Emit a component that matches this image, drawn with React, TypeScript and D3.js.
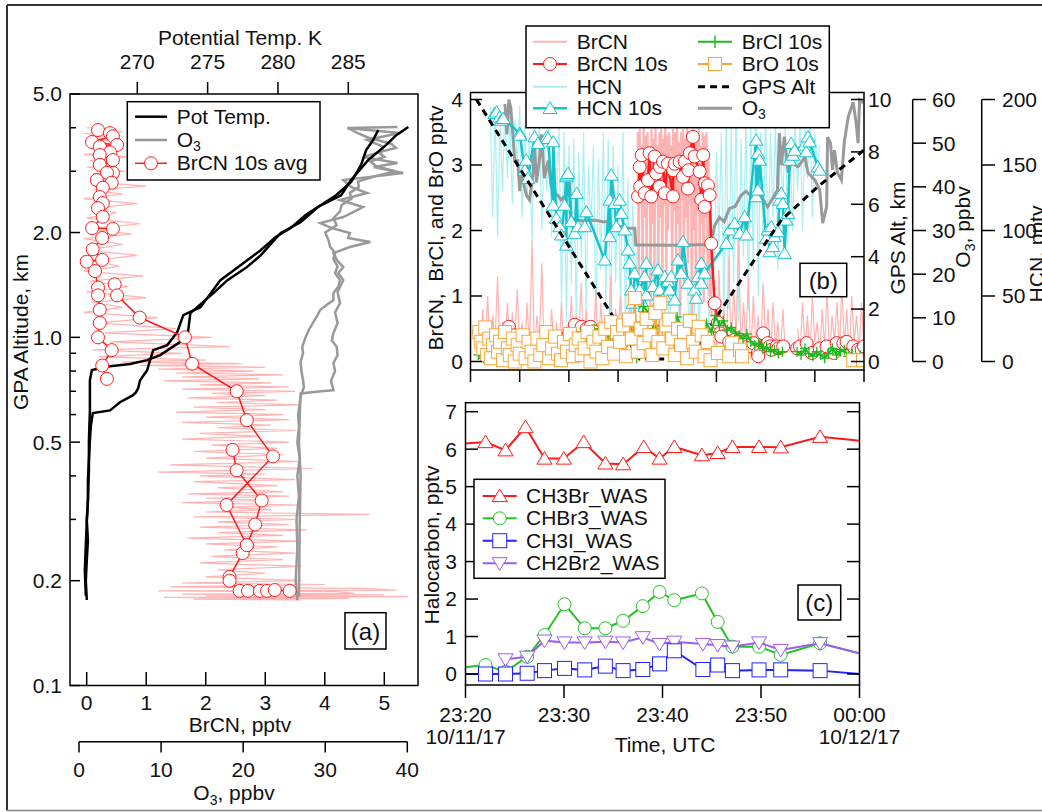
import React from "react";
import * as d3 from "d3";

type P = [number, number] | null;

const FONT = "'Liberation Sans', Arial, Helvetica, sans-serif";

// ---------------- Panel (a): vertical profile ----------------
const altTickValues = [0.1, 0.2, 0.5, 1.0, 2.0, 5.0];
const altTickLabels = ["0.1", "0.2", "0.5", "1.0", "2.0", "5.0"];
const altMinorTicks = [0.3, 0.4, 0.6, 0.7, 0.8, 0.9, 3, 4];
const thetaTicks = [270, 275, 280, 285];
const brcnTicksA = [0, 1, 2, 3, 4, 5];
const o3TicksA = [0, 10, 20, 30, 40];

// [altitude km, potential temperature K]
const potTempA: P[] = [
  [0.176, 266.41], [0.2, 266.34], [0.229, 266.41], [0.261, 266.49], [0.298, 266.41], [0.34, 266.49],
  [0.389, 266.49], [0.444, 266.56], [0.506, 266.63], [0.559, 266.7], [0.606, 266.84], [0.617, 268.06],
  [0.651, 268.77], [0.682, 269.7], [0.696, 269.91], [0.714, 270.06], [0.753, 270.2], [0.805, 270.7],
  [0.86, 270.91], [0.919, 271.13], [0.95, 272.13], [1.035, 272.84], [1.158, 273.27], [1.221, 274.49],
  [1.46, 275.91], [1.61, 277.34], [1.78, 278.77], [1.942, 279.84], [2.061, 280.91], [2.25, 281.99],
  [2.4, 283.06], [2.56, 284.13], [2.794, 285.2], [3.13, 285.91], [3.45, 286.27], [3.69, 286.77], [3.94, 287.13],
];
const potTempB: P[] = [
  [0.181, 266.34], [0.214, 266.27], [0.253, 266.34], [0.298, 266.41], [0.34, 266.49], [0.415, 266.56],
  [0.506, 266.56], [0.617, 266.63], [0.753, 266.63], [0.805, 266.77], [0.826, 268.06], [0.838, 269.49],
  [0.86, 270.7], [0.889, 271.63], [0.95, 272.7], [1.0, 273.56], [1.174, 273.77], [1.34, 275.41],
  [1.46, 276.41], [1.581, 277.7], [1.72, 278.77], [1.994, 280.2], [2.144, 281.63], [2.368, 282.84],
  [2.56, 284.49], [2.83, 285.2], [3.23, 286.41], [3.57, 287.7], [3.81, 288.41], [4.02, 289.27],
];
// [altitude km, O3 ppbv]
const o3ProfA: P[] = [
  [0.176, 26.6], [0.2, 26.4], [0.25, 26.6], [0.3, 26.5], [0.35, 26.8], [0.4, 26.6], [0.45, 26.9], [0.5, 26.6],
  [0.55, 26.8], [0.6, 26.7], [0.647, 26.9], [0.675, 27.0], [0.72, 27.4], [0.753, 27.3], [0.8, 27.1], [0.85, 27.0],
  [0.9, 27.3], [0.939, 27.2], [1.0, 27.6], [1.05, 28.0], [1.1, 28.5], [1.15, 29.0], [1.2, 29.4], [1.24, 30.2],
  [1.28, 31.0], [1.34, 31.0], [1.4, 31.6], [1.46, 31.8], [1.53, 31.2], [1.6, 31.5], [1.68, 31.0], [1.75, 31.2],
  [1.82, 30.6], [1.9, 30.4], [2.0, 30.0], [2.1, 31.4], [2.2, 31.0], [2.3, 31.8], [2.4, 32.0], [2.5, 33.2],
  [2.6, 33.0], [2.7, 34.1], [2.8, 34.0], [2.9, 36.0], [3.0, 38.5], [3.1, 36.2], [3.2, 35.5], [3.3, 37.2],
  [3.4, 36.5], [3.5, 38.6], [3.6, 38.0], [3.75, 35.2], [3.865, 33.9], [4.0, 32.7],
];
const o3ProfB: P[] = [
  [0.18, 26.8], [0.3, 26.9], [0.4, 27.0], [0.5, 26.8], [0.6, 26.9], [0.69, 27.0], [0.7, 29.5], [0.705, 31.0],
  [0.75, 30.7], [0.8, 31.2], [0.843, 31.0], [0.89, 31.5], [0.939, 31.4], [0.98, 30.8], [1.028, 31.0],
  [1.1, 31.5], [1.18, 31.2], [1.254, 31.8], [1.35, 31.5], [1.46, 32.2], [1.53, 31.6], [1.592, 32.2],
  [1.67, 31.4], [1.746, 31.0], [1.817, 33.0], [1.878, 35.5], [1.93, 32.8], [1.994, 33.0], [2.06, 30.8],
  [2.13, 29.4], [2.216, 32.2], [2.29, 33.4], [2.368, 34.6], [2.48, 31.8], [2.598, 35.1], [2.7, 33.2],
  [2.83, 32.2], [2.966, 39.5], [3.086, 35.9], [3.17, 38.8], [3.298, 34.6], [3.41, 36.8], [3.524, 37.1],
  [3.69, 35.1], [3.865, 39.1], [3.995, 32.7], [4.02, 38.8],
];
// [altitude km, BrCN pptv] raw 1 Hz
const brcnRawProf: P[] = [
  [4.0, 0.0], [3.97, 0.5], [3.93, 0.1], [3.9, 0.6], [3.85, -0.05], [3.8, 0.55], [3.75, 0.05], [3.7, 0.45],
  [3.62, 0.0], [3.55, 0.62], [3.5, 0.1], [3.42, 0.5], [3.35, -0.05], [3.3, 0.7], [3.22, 0.05], [3.15, 0.45],
  [3.08, 0.0], [3.0, 0.65], [2.95, 0.1], [2.88, 0.55], [2.8, 0.05], [2.72, 1.0], [2.65, 0.1], [2.58, 0.6],
  [2.5, -0.05], [2.42, 0.85], [2.35, 0.1], [2.28, 0.5], [2.2, 0.0], [2.12, 0.9], [2.05, 0.05], [1.98, 0.75],
  [1.92, -0.05], [1.85, 0.6], [1.78, 0.0], [1.72, 0.85], [1.66, 0.1], [1.6, 0.55], [1.55, -0.05], [1.5, 0.95],
  [1.45, 0.05], [1.4, 0.7], [1.35, 0.0], [1.3, 1.0], [1.26, 0.1], [1.22, 0.6], [1.18, -0.05], [1.14, 1.2],
  [1.1, 0.2], [1.06, 1.5], [1.03, 0.3], [1.0, 2.1], [0.97, 0.4], [0.94, 2.4], [0.92, 0.1], [0.9, 1.6],
  [0.88, 0.2], [0.86, 2.0], [0.85, 0.6], [0.84, 2.6], [0.83, 0.9], [0.82, 3.0], [0.81, 1.2], [0.8, 2.8],
  [0.79, 1.5], [0.78, 3.3], [0.77, 1.6], [0.76, 2.9], [0.75, 1.3], [0.74, 3.1], [0.73, 1.9], [0.72, 3.4],
  [0.71, 1.6], [0.7, 3.5], [0.69, 2.1], [0.68, 3.0], [0.67, 1.7], [0.66, 3.2], [0.65, 2.2], [0.64, 3.6],
  [0.63, 1.8], [0.62, 3.0], [0.61, 1.5], [0.6, 3.3], [0.59, 2.0], [0.58, 3.4], [0.57, 1.6], [0.56, 3.1],
  [0.55, 2.2], [0.54, 3.5], [0.53, 1.9], [0.52, 2.9], [0.51, 1.6], [0.5, 3.4], [0.49, 2.1], [0.48, 3.2],
  [0.47, 1.8], [0.46, 3.3], [0.45, 2.0], [0.44, 3.6], [0.43, 1.4], [0.42, 3.8], [0.41, 1.2], [0.405, 3.0],
  [0.4, 1.9], [0.39, 3.5], [0.385, 1.8], [0.375, 3.2], [0.37, 2.2], [0.36, 3.3], [0.355, 1.7], [0.35, 3.4],
  [0.345, 2.0], [0.34, 3.0], [0.335, 1.6], [0.33, 3.6], [0.325, 2.3], [0.32, 3.1], [0.315, 2.0], [0.31, 4.75],
  [0.305, 1.8], [0.3, 3.5], [0.295, 2.2], [0.29, 3.4], [0.285, 1.9], [0.28, 3.7], [0.275, 2.2], [0.27, 3.3],
  [0.265, 1.7], [0.26, 3.6], [0.255, 2.0], [0.25, 3.2], [0.245, 2.3], [0.24, 3.5], [0.235, 2.1], [0.23, 3.3],
  [0.225, 1.9], [0.22, 3.6], [0.215, 2.2], [0.21, 3.0], [0.205, 2.0], [0.2, 3.6], [0.197, 1.6], [0.195, 4.0],
  [0.192, 1.4], [0.19, 4.6], [0.188, 5.2], [0.187, 1.2], [0.186, 4.2], [0.184, 4.5], [0.183, 1.6], [0.182, 5.0],
  [0.181, 2.0], [0.18, 5.4], [0.179, 1.3], [0.178, 4.4], [0.177, 1.8], [0.176, 3.6],
];
// [altitude km, BrCN pptv] 10 s averages (null = break in line)
const brcnAvgProf: P[] = [
  [3.94, 0.19], [3.86, 0.39], [3.78, 0.44], [3.64, 0.09], [3.57, 0.51], [3.53, 0.22], [3.4, 0.39], [3.34, 0.22],
  [3.23, 0.44], [3.13, 0.22], [2.97, 0.44], [2.97, 0.34], [2.83, 0.17], [2.78, 0.42], [2.69, 0.27], [2.53, 0.22],
  [2.43, 0.27], [2.35, 0.19], [2.22, 0.27], [2.06, 0.09], [2.05, 0.44], [1.93, 0.26], [1.79, 0.1], [1.67, 0.26],
  [1.65, 0.0], [1.55, 0.14], [1.39, 0.19], [1.32, 0.19], [1.2, 0.22], [1.1, 0.22], [1.0, 0.19], [0.919, 0.42],
  [0.83, 0.26], [0.76, 0.34],
  null,
  [1.42, 0.47], [1.32, 0.51], [1.14, 0.89], [1.0, 1.65], [0.84, 1.77], [0.7, 2.52], [0.578, 2.69], [0.455, 3.13],
  [0.33, 2.35], [0.253, 2.69], [0.24, 2.62], [0.205, 2.4], [0.2, 2.4], [0.187, 2.57], [0.187, 2.71], [0.187, 2.91],
  [0.187, 3.03], [0.188, 3.16], [0.187, 3.41],
  null,
  [0.475, 2.45], [0.415, 2.52], [0.34, 2.94], [0.29, 2.83], [0.253, 2.69],
];

// ---------------- Panel (b): time series ----------------
const bLeftTicks = [0, 1, 2, 3, 4];
const gpsTicks = [0, 2, 4, 6, 8, 10];
const o3TicksB = [0, 10, 20, 30, 40, 50, 60];
const hcnTicks = [0, 50, 100, 150, 200];
const bTimeTicks = [0, 5, 10, 15, 20, 25, 30, 35, 40];

// [minutes after 23:20 UTC, value]
const gpsAlt: P[] = [
  [0.6, 10.0], [17.2, 0.1], [22.3, 0.1], [25.0, 1.7], [30.2, 4.64], [31.6, 5.4], [35.3, 6.67], [40, 8.07],
];
const o3Series: P[] = [
  [3.5, 59], [3.7, 52], [3.9, 60], [4.1, 58], [4.3, 52], [4.5, 46], [4.8, 46], [5.0, 39], [5.15, 43], [5.7, 38],
  [6.0, 37], [6.35, 43], [6.5, 50], [6.7, 41], [7.0, 46], [7.2, 52], [7.5, 42], [7.9, 46], [8.2, 40], [8.6, 38.5],
  [8.9, 38], [9.2, 37], [9.9, 38.5], [10.1, 41], [10.2, 33], [10.6, 32.5], [11.5, 32.2], [12.5, 32.4], [13.5, 32],
  [14.0, 32], [14.1, 35], [14.3, 30.5], [15, 31], [16, 30.5], [16.7, 30.5], [16.8, 26.7], [18, 26.7], [20, 26.6],
  [22, 26.7], [24.4, 26.8], [24.8, 31], [25.3, 33], [25.8, 32], [26.3, 35], [26.9, 35.5], [27.5, 38], [28, 39],
  [28.7, 37.5], [29.5, 38], [30.2, 35.4], [31.2, 39.3], [31.4, 52.3], [31.6, 45], [31.9, 51.5], [32.3, 43.2],
  [32.6, 45.5], [33.3, 44.6], [34, 46.8], [34.3, 43.2], [35, 41.6], [35.5, 39.3], [35.8, 31.7], [36.2, 35.4],
  [36.3, 51.4], [36.6, 50], [36.8, 43.9], [37.0, 48.4], [37.3, 43.2], [37.7, 41.6], [38.0, 50.3], [38.4, 56],
  [38.9, 59.4], [39.2, 54.6], [39.4, 50], [39.55, 59.9], [39.9, 59.2],
];
// HCN raw (pptv), sampled every 0.25 min from 2.0 min
const hcnRawStart = 2.0;
const hcnRawStep = 0.25;
const hcnRaw: (number | null)[] = [
  195, 110, 190, 95, 185, 130, 195,
  140, 190, 120, 185, 150, 195,
  110, 180, 125, 175, 90, 190, 140, 185,
  100, 170, 130, 185, 95, 160, 120, 180,
  40, 175, 30, 165,
  60, 170, 25, 160, 80, 175, 40, 150,
  100, 165, 30, 155, 70, 175, 45, 170,
  20, 165, 60, 150, 35, 175, 25, 140,
  15, 120, 30, 110,
  40, 90, 20, 85, 60, 75, 25, 95, 50, 80, 30, 70,
  20, 85, 45, 70, 16, 90, 55, 65, 25, 80,
  35, 85, 20, 90, 50, 75, 30, 95,
  70, 160, 90, 175,
  25, 195, 40, 180, 60, 200, 30, 170, 80, 190,
  40, 185, 70, 200, 50, 175, 90, 190,
  80, 175, 110, 185, 70, 170, 120, 180, 90, 160, 100, 185,
  130, 185, 100, 180, 140, 190, 110, 175, 150, 165,
];
const hcn10s: P[] = [
  [2.46, 189.3], [2.66, 190.5], [2.97, 186.7], [3.13, 184.2], [3.33, 185.5], [5.0, 174.1], [5.03, 172.8],
  [5.51, 146.1], [5.67, 153.7], [5.84, 139.8], [6.52, 171.5], [6.86, 166.5], [7.74, 171.5], [7.88, 170.3],
  [8.38, 119.4], [8.41, 167.7], [8.72, 109.3], [9.07, 102.9], [9.23, 96.6], [9.57, 119.4], [9.74, 141.0],
  [9.74, 88.9], [9.78, 142.3], [9.91, 143.6], [10.24, 106.7], [10.59, 97.9], [10.79, 128.4], [10.92, 102.9],
  [11.61, 102.9], [11.77, 114.3], [13.64, 77.5], [14.15, 123.2], [14.15, 95.3], [14.31, 142.3], [14.65, 120.7],
  [14.82, 102.9], [15.16, 123.2], [15.33, 113.1], [15.67, 100.4], [16.01, 85.1], [16.18, 75.0], [16.34, 54.6],
  [16.51, 44.5], [16.69, 67.4], [17.2, 54.6], [17.7, 64.8], [17.7, 41.9], [17.87, 75.0], [17.87, 50.8],
  [18.55, 57.2], [19.05, 69.9], [19.05, 44.5], [19.23, 54.6], [19.74, 64.8], [19.74, 49.5], [20.07, 61.0],
  [20.24, 54.6], [20.41, 64.8], [20.75, 47.0], [21.09, 77.5], [21.42, 67.4], [21.6, 91.5], [22.1, 59.8],
  [22.78, 54.6], [22.95, 48.3], [23.12, 64.8], [23.46, 75.0], [23.46, 59.8], [23.8, 67.4], [26.0, 90.2],
  [26.34, 100.4], [26.85, 105.5], [27.36, 97.9], [27.87, 110.5], [28.03, 96.6], [29.04, 169.0], [29.04, 125.8],
  [29.22, 158.8], [29.22, 130.9], [29.39, 153.7], [30.06, 94.1], [30.23, 100.4], [30.41, 83.8], [30.57, 102.9],
  [30.74, 87.7], [30.91, 95.3], [31.25, 99.1], [31.42, 123.2], [31.59, 128.4], [31.76, 120.7], [31.93, 82.6],
  [32.09, 108.0], [32.27, 113.1], [32.44, 153.7], [32.6, 166.5], [32.77, 157.5], [32.95, 161.3], [33.96, 165.2],
  [34.13, 160.1], [34.3, 171.5], [34.47, 167.7], [35.31, 148.6], [35.49, 146.1],
];
// BrCN raw (pptv), sampled every 0.25 min from 0.75 min (the 17-24.5 min plume is held separately)
const brcnRawStart = 0.75;
const brcnRawStep = 0.25;
const brcnRaw: (number | null)[] = [
  0.5, 0.1, 0.8, 0.2, 1.0, 0.05, 0.7, 0.3, 1.3, 0.1, 0.6, 0.2, 0.9, 0.0, 0.75, 0.3, 1.1, 0.15,
  0.6, 0.05, 0.9, 0.2, 1.85, 0.1, 0.7, 0.3, 1.5, 0.0, 0.5, 0.25, 0.8, 0.1, 0.6, 0.2, 0.9, 0.05, 0.55, 0.3,
  1.0, 0.1, 0.7, 0.35, 1.2, 0.05, 0.8, 0.2, 0.6, 0.4, 1.1, 0.1, 0.9, 0.3, 0.5, 0.15, 1.3, 0.2, 0.8, 0.45,
  1.0, 0.1, 0.7, 0.3, 1.2, 0.25, 0.6, 0.1,
  null, null, null, null, null, null, null, null, null, null, null, null, null, null, null,
  null, null, null, null, null, null, null, null, null, null, null, null, null, null, null,
  1.0, 0.1, 1.4, 0.3, 0.8, 0.05, 1.6, 0.2, 1.1, 0.4, 1.85, 0.15, 0.9, 0.3, 1.3, 0.05, 1.0, 0.25, 0.7, 0.1,
  1.2, 0.3, 0.8, 0.05, 0.9, 0.2, 0.6, 0.1, 0.8, 0.15,
  null, null, null, null,
  0.5, 0.1, 0.9, 0.2, 0.7, 0.05, 1.0, 0.3, 0.6, 0.1, 0.8, 0.2, 1.1, 0.05, 0.7, 0.3, 0.9, 0.1, 1.2, 0.25,
  0.8, 0.05, 1.0, 0.3, 0.7, 0.15, 0.9, 0.2, 0.6,
];
const brcnPlumeStart = 17.0;
const brcnPlumeStep = 0.1;
const brcnPlume: number[] = [
  3.5, 1.2, 3.55, 2.4, 3.3, 0.9, 3.6, 2.2, 3.45, 1.5,
  3.5, 2.6, 3.2, 0.6, 3.55, 2.1, 3.4, 1.1, 3.6, 2.5,
  3.3, 1.4, 3.5, 2.2, 3.55, 0.8, 3.4, 2.4, 3.6, 1.3,
  3.45, 2.0, 3.5, 2.7, 3.3, 1.0, 3.55, 2.3, 3.5, 1.6,
  3.6, 2.1, 3.35, 0.7, 3.5, 2.5, 3.55, 1.2, 3.4, 2.2,
  3.6, 1.5, 3.45, 2.4, 3.5, 0.6, 3.55, 2.0, 3.4, 1.1,
  3.5, 2.3, 3.6, 1.4, 3.3, 2.1, 3.5, 0.9, 3.45, 2.2,
  3.5, 1.3, 3.2, 1.0, 2.5, 0.7,
];
const brcn10s: P[] = [
  [0.9, 0.45], [1.3, 0.43], [1.5, 0.36], [2.0, 0.3], [2.6, 0.25], [3.2, 0.35], [3.9, 0.53], [4.4, 0.4], [5.0, 0.3],
  [5.6, 0.22], [6.2, 0.2], [6.9, 0.25], [7.6, 0.3], [8.2, 0.23], [8.9, 0.28], [9.5, 0.35], [10.0, 0.4], [10.6, 0.56],
  [11.3, 0.53], [11.8, 0.5], [12.2, 0.53], [12.5, 0.46], [13.1, 0.4], [13.6, 0.48], [14.3, 0.48], [14.9, 0.35],
  [15.5, 0.3], [16.1, 0.38], [16.7, 0.42],
  null,
  [17.03, 2.52], [17.2, 2.97], [17.25, 2.67], [17.4, 3.15], [17.7, 2.57], [18.04, 2.77], [18.2, 3.18], [18.37, 2.52],
  [18.72, 3.13], [18.88, 2.87], [19.23, 2.67], [19.26, 2.97], [19.56, 3.05], [19.74, 2.57], [20.07, 3.02],
  [20.58, 2.52], [20.61, 2.92], [20.75, 3.02], [21.26, 3.05], [21.6, 2.82], [21.77, 3.05], [22.1, 2.64],
  [22.15, 2.92], [22.3, 3.18], [22.61, 3.43], [22.78, 3.13], [23.29, 2.9], [23.46, 2.47], [23.66, 3.15],
  [23.8, 2.36], [23.83, 2.72], [24.14, 2.69], [24.31, 2.54], [24.47, 1.8], [24.82, 0.89],
  [25.15, 0.59], [25.36, 0.43], [25.49, 0.38], [26.3, 0.3], [26.85, 0.33], [27.39, 0.33], [28.2, 0.23],
  [28.74, 0.28], [29.22, 0.13], [29.25, 0.08], [29.76, 0.43], [30.23, 0.28], [30.43, 0.23], [30.6, 0.18],
  [31.12, 0.23], [31.3, 0.2], [31.79, 0.23],
  null,
  [33.2, 0.2], [33.49, 0.23], [34.17, 0.28], [34.7, 0.13], [35.5, 0.2], [36.2, 0.23], [36.9, 0.13], [37.22, 0.28],
  [37.9, 0.28], [38.23, 0.3], [38.9, 0.23], [39.4, 0.18], [39.76, 0.18], [40.0, 0.23],
];
const brcl10s: P[] = [
  [0.8, 0.1], [1.3, 0.05], [2, 0.08], [2.7, 0.02], [3.4, 0.06], [4.1, 0.0], [4.8, 0.05], [5.5, 0.08], [6.2, 0.03],
  [7, 0.1], [7.7, 0.05], [8.4, 0.15], [9.1, 0.3], [9.8, 0.25], [10.5, 0.38], [11.2, 0.45], [11.9, 0.33],
  [12.6, 0.5], [13.3, 0.3], [14, 0.4], [14.7, 0.35], [15.4, 0.5], [16.1, 0.55], [16.6, 0.45], [16.9, 0.05],
  [17.3, 0.6], [17.6, 0.84], [18.1, 0.74], [18.6, 0.5], [19.2, 0.55], [19.8, 0.6], [20.4, 0.5], [21, 0.68],
  [21.6, 0.45], [22.2, 0.55], [22.8, 0.62], [23.4, 0.5], [24, 0.58], [24.5, 0.45], [24.9, 0.7], [25.3, 0.55],
  [25.7, 0.62], [26.1, 0.48], [26.5, 0.52], [26.9, 0.45], [27.3, 0.4], [27.7, 0.35], [28.1, 0.42], [28.5, 0.3],
  [28.9, 0.25], [29.3, 0.28], [29.7, 0.2], [30.1, 0.22], [30.5, 0.15], [30.9, 0.18], [31.3, 0.12], [31.7, 0.15],
  null,
  [33.2, 0.15], [33.6, 0.1], [34, 0.2], [34.4, 0.12], [34.8, 0.08], [35.2, 0.15], [35.6, 0.1], [36, 0.05],
  [36.4, 0.12], [36.8, 0.2], [37.2, 0.1], [37.6, 0.15], [38, 0.18], [38.4, 0.08], [38.8, 0.12], [39.2, 0.05],
  [39.6, 0.1],
];
const bro10s: P[] = [
  [0.9, 0.45], [1.1, 0.3], [1.3, 0.2], [1.5, 0.52], [1.7, 0.1], [1.9, 0.35], [2.1, 0.05], [2.3, 0.25], [2.6, 0.4],
  [2.8, 0.15], [3.0, 0.3], [3.3, 0.02], [3.5, 0.45], [3.8, 0.2], [4.0, 0.1], [4.3, 0.35], [4.5, 0.0], [4.8, 0.25],
  [5.0, 0.12], [5.3, 0.4], [5.6, 0.05], [5.9, 0.3], [6.2, 0.15], [6.5, 0.0], [6.8, 0.35], [7.1, 0.1], [7.4, 0.25],
  [7.7, 0.45], [8.0, 0.05], [8.3, 0.2], [8.6, 0.38], [8.9, 0.12], [9.2, 0.02], [9.5, 0.3], [9.8, 0.15],
  [10.1, 0.42], [10.4, 0.08], [10.7, 0.25], [11.0, 0.35], [11.3, 0.1], [11.6, 0.2], [11.9, 0.45], [12.2, 0.0],
  [12.5, 0.3], [12.8, 0.15], [13.1, 0.38], [13.4, 0.05], [13.7, 0.5], [14.0, 0.22], [14.3, 0.6], [14.6, 0.12],
  [14.9, 0.45], [15.2, 0.3], [15.5, 0.55], [15.8, 0.08], [16.1, 0.64], [16.4, 0.35], [16.7, 0.97], [17.0, 0.15],
  [17.3, 0.5], [17.6, 0.28], [17.9, 0.65], [18.2, 0.4], [18.5, 0.1], [18.8, 0.74], [19.1, 0.3], [19.3, 0.89],
  [19.6, 0.2], [19.9, 0.55], [20.2, 0.64], [20.5, 0.35], [20.8, 0.1], [21.1, 0.5], [21.4, 0.25], [21.7, 0.45],
  [22.0, 0.05], [22.3, 0.62], [22.6, 0.3], [22.9, 0.15], [23.2, 0.53], [23.5, 0.4], [23.8, 0.08], [24.1, 0.3],
  [24.4, 0.02], [25.15, 0.13], [26.3, 0.08], [26.6, 0.28], [27.4, 0.18], [27.6, 0.08],
  null,
  [38.9, 0.02], [39.9, 0.02],
];

// ---------------- Panel (c): halocarbons ----------------
const cLeftTicks = [0, 1, 2, 3, 4, 5, 6, 7];
const timeTicks = [0, 10, 20, 30, 40];
const timeLabels = ["23:20", "23:30", "23:40", "23:50", "00:00"];
const dateLabels = ["10/11/17", "", "", "", "10/12/17"];

const ch3br: P[] = [
  [-3, 6.1], [2.03, 6.19], [4.06, 5.97], [6.09, 6.59], [8.02, 5.75], [9.98, 5.75], [12.0, 6.19], [14.2, 5.62],
  [16.0, 5.6], [18.1, 6.06], [19.7, 5.75], [21.2, 6.06], [24.0, 5.84], [25.6, 5.9], [27.1, 6.06], [29.8, 6.06],
  [32.0, 6.05], [36.0, 6.33], [44, 6.12],
];
const chbr3: P[] = [
  [-3, 0.1], [2.03, 0.24], [4.06, 0.06], [6.26, 0.46], [8.02, 1.04], [10.05, 1.86], [12.1, 1.22], [14.2, 1.22],
  [16.0, 1.42], [18.0, 1.81], [19.7, 2.19], [21.2, 1.97], [24.0, 2.15], [25.6, 1.39], [27.1, 0.73], [29.8, 0.73],
  [32.0, 0.51], [36.0, 0.82], [44, 0.28],
];
const ch3i: P[] = [
  [-3, 0.0], [2.03, 0.0], [4.06, 0.0], [6.26, 0.02], [8.02, 0.09], [10.05, 0.15], [12.1, 0.11], [14.2, 0.21],
  [16.0, 0.09], [18.0, 0.12], [19.7, 0.27], [21.2, 0.62], [24.1, 0.12], [25.6, 0.24], [27.1, 0.09], [29.8, 0.11],
  [32.0, 0.11], [36.0, 0.09], [44, -0.09],
];
const ch2br2: P[] = [
  [4.06, 0.39], [6.26, 0.46], [8.02, 0.89], [10.05, 0.84], [12.1, 0.84], [14.2, 0.86], [16.0, 0.84], [18.0, 0.98],
  [19.7, 0.8], [21.2, 0.86], [24.1, 0.8], [25.6, 0.77], [27.1, 0.73], [29.8, 0.84], [32.0, 0.64], [36.0, 0.82],
  [44, 0.28],
];

// ---------------- colours ----------------
const C_RED = "#ff1a1a";
const C_PINK = "#ffb3b3";
const C_CYAN = "#14c3cc";
const C_LCYAN = "#aaf0f2";
const C_GREEN = "#1cb81c";
const C_ORANGE = "#f7a738";
const C_GRAY = "#999999";
const C_BLUE = "#2222ff";
const C_PURPLE = "#9a5ef0";
const C_CGREEN = "#22c422";

const series = (start: number, step: number, vals: (number | null)[]): P[] =>
  vals.map((v, i) => (v == null ? null : ([start + i * step, v] as [number, number])));

function triUp(x: number, y: number, s: number) {
  return `M${x},${y - s}L${x + s * 1.08},${y + s * 0.8}L${x - s * 1.08},${y + s * 0.8}Z`;
}
function triDown(x: number, y: number, s: number) {
  return `M${x},${y + s}L${x + s * 1.08},${y - s * 0.8}L${x - s * 1.08},${y - s * 0.8}Z`;
}

export default function App() {
  // ----- scales (a)
  const aY = d3.scaleLog().domain([0.1, 5]).range([685.5, 94]);
  const aTheta = d3.scaleLinear().domain([270, 285]).range([137.3, 348.3]);
  const aBr = d3.scaleLinear().domain([0, 5]).range([86.7, 384.3]);
  const aO3 = d3.scaleLinear().domain([0, 40]).range([79, 407.3]);
  const prof = (xs: any) =>
    d3.line<P>().defined((d) => d != null).x((d) => xs((d as any)[1])).y((d) => aY((d as any)[0]));

  // ----- scales (b)
  const bX = d3.scaleLinear().domain([0, 40]).range([470.5, 864]);
  const bY = d3.scaleLinear().domain([0, 4]).range([361.5, 99.5]);
  const bAlt = d3.scaleLinear().domain([0, 10]).range([361.5, 99.5]);
  const bO3 = d3.scaleLinear().domain([0, 60]).range([361.5, 99.5]);
  const bHCN = d3.scaleLinear().domain([0, 200]).range([361.5, 99.5]);
  const tl = (ys: any) =>
    d3.line<P>().defined((d) => d != null).x((d) => bX((d as any)[0])).y((d) => ys((d as any)[1]));

  // ----- scales (c)
  const cX = d3.scaleLinear().domain([0, 40]).range([465.5, 859.5]);
  const cY = d3.scaleLinear().domain([0, 7]).range([674, 411.7]);
  const cl = d3.line<P>().defined((d) => d != null).x((d) => cX((d as any)[0])).y((d) => cY((d as any)[1]));

  const pts = (arr: P[]) => arr.filter((d) => d != null) as [number, number][];

  const hcnRawPts = series(hcnRawStart, hcnRawStep, hcnRaw);
  const brcnRawPts = series(brcnRawStart, brcnRawStep, brcnRaw);
  const brcnPlumePts = series(brcnPlumeStart, brcnPlumeStep, brcnPlume);

  const FS = 21;
  const txt = { fontFamily: FONT, fontSize: FS, fill: "#111" } as any;

  const bLegend1 = [
    { label: "BrCN", kind: "pink" },
    { label: "BrCN 10s", kind: "brcn10" },
    { label: "HCN", kind: "lcyan" },
    { label: "HCN 10s", kind: "hcn10" },
  ];
  const bLegend2 = [
    { label: "BrCl 10s", kind: "brcl" },
    { label: "BrO 10s", kind: "bro" },
    { label: "GPS Alt", kind: "gps" },
    { label: "O3", kind: "o3" },
  ];
  const bRows = [41.7, 64, 86.7, 108.3];

  const legendSample = (kind: string, x0: number, x1: number, y: number) => {
    const xm = (x0 + x1) / 2;
    switch (kind) {
      case "pink":
        return <line x1={x0} x2={x1} y1={y} y2={y} stroke={C_PINK} strokeWidth={2} />;
      case "brcn10":
        return (
          <g>
            <line x1={x0} x2={x1} y1={y} y2={y} stroke={C_RED} strokeWidth={2} />
            <circle cx={xm} cy={y} r={6.5} fill="#fff" stroke={C_RED} strokeWidth={1} />
          </g>
        );
      case "lcyan":
        return <line x1={x0} x2={x1} y1={y} y2={y} stroke={C_LCYAN} strokeWidth={2} />;
      case "hcn10":
        return (
          <g>
            <line x1={x0} x2={x1} y1={y} y2={y} stroke={C_CYAN} strokeWidth={2.5} />
            <path d={triUp(xm, y, 6.5)} fill="#fff" stroke={C_CYAN} strokeWidth={1} />
          </g>
        );
      case "brcl":
        return (
          <g>
            <line x1={x0} x2={x1} y1={y} y2={y} stroke={C_GREEN} strokeWidth={2} />
            <line x1={xm} x2={xm} y1={y - 6} y2={y + 6} stroke={C_GREEN} strokeWidth={1.5} />
          </g>
        );
      case "bro":
        return (
          <g>
            <line x1={x0} x2={x1} y1={y} y2={y} stroke={C_ORANGE} strokeWidth={2} />
            <rect x={xm - 6.5} y={y - 6.5} width={13} height={13} fill="#fff" stroke={C_ORANGE} strokeWidth={1} />
          </g>
        );
      case "gps":
        return <line x1={x0} x2={x1} y1={y} y2={y} stroke="#000" strokeWidth={3} strokeDasharray="7,5" />;
      case "o3":
        return <line x1={x0} x2={x1} y1={y} y2={y} stroke={C_GRAY} strokeWidth={3} />;
    }
    return null;
  };

  const cLegend = [
    { label: "CH3Br_WAS", color: C_RED, m: "tri" },
    { label: "CHBr3_WAS", color: C_CGREEN, m: "circ" },
    { label: "CH3I_WAS", color: C_BLUE, m: "sq" },
    { label: "CH2Br2_WAS", color: C_PURPLE, m: "tridown" },
  ];
  const cRows = [496, 518.3, 540.7, 563.3];

  const cMarker = (m: string, x: number, y: number, color: string, key: any) => {
    if (m === "tri") return <path key={key} d={triUp(x, y, 7)} fill="#fff" stroke={color} strokeWidth={1} />;
    if (m === "tridown") return <path key={key} d={triDown(x, y, 7)} fill="#fff" stroke={color} strokeWidth={1} />;
    if (m === "circ") return <circle key={key} cx={x} cy={y} r={6.5} fill="#fff" stroke={color} strokeWidth={1} />;
    return <rect key={key} x={x - 7} y={y - 7} width={14} height={14} fill="#fff" stroke={color} strokeWidth={1} />;
  };

  const cSeries = [
    { data: ch3br, color: C_RED, m: "tri" },
    { data: chbr3, color: C_CGREEN, m: "circ" },
    { data: ch2br2, color: C_PURPLE, m: "tridown" },
    { data: ch3i, color: C_BLUE, m: "sq" },
  ];

  return (
    <svg
      width={1042}
      height={812}
      style={{ position: "absolute", left: 0, top: 0, display: "block", background: "#fff" }}
      fontFamily={FONT}
    >
      <defs>
        <clipPath id="clipA">
          <rect x={70} y={94} width={348} height={591.5} />
        </clipPath>
        <clipPath id="clipB">
          <rect x={470.5} y={92.5} width={393.5} height={277.5} />
        </clipPath>
        <clipPath id="clipC">
          <rect x={465.5} y={402.7} width={394} height={282.3} />
        </clipPath>
      </defs>
      <rect x={0} y={0} width={1042} height={812} fill="#fff" />
      {/* outer border */}
      <line x1={7} x2={1042} y1={5} y2={5} stroke="#333" strokeWidth={2} />
      <line x1={7} x2={7} y1={5} y2={810.5} stroke="#333" strokeWidth={2} />
      <line x1={7} x2={1042} y1={810.5} y2={810.5} stroke="#888" strokeWidth={1.5} />

      {/* ================= Panel (a) ================= */}
      <g clipPath="url(#clipA)">
        <path d={prof(aBr)(brcnRawProf) || ""} fill="none" stroke={C_PINK} strokeWidth={1.2} />
        <path d={prof(aO3)(o3ProfA) || ""} fill="none" stroke={C_GRAY} strokeWidth={2.5} />
        <path d={prof(aO3)(o3ProfB) || ""} fill="none" stroke={C_GRAY} strokeWidth={2.5} />
        <path d={prof(aTheta)(potTempA) || ""} fill="none" stroke="#000" strokeWidth={2.5} />
        <path d={prof(aTheta)(potTempB) || ""} fill="none" stroke="#000" strokeWidth={2.5} />
        <path d={prof(aBr)(brcnAvgProf) || ""} fill="none" stroke={C_RED} strokeWidth={1.5} />
        {pts(brcnAvgProf).map((d, i) => (
          <circle key={i} cx={aBr(d[1])} cy={aY(d[0])} r={6.5} fill="#fff" stroke={C_RED} strokeWidth={1} />
        ))}
      </g>
      <rect x={70} y={94} width={348} height={591.5} fill="none" stroke="#000" strokeWidth={1.5} />
      {altTickValues.map((v, i) => (
        <g key={"at" + i}>
          <line x1={70} x2={80} y1={aY(v)} y2={aY(v)} stroke="#000" strokeWidth={1.5} />
          <text {...txt} x={62} y={aY(v)} dy="0.35em" textAnchor="end">
            {altTickLabels[i]}
          </text>
        </g>
      ))}
      {altMinorTicks.map((v, i) => (
        <line key={"am" + i} x1={70} x2={76} y1={aY(v)} y2={aY(v)} stroke="#000" strokeWidth={1.5} />
      ))}
      <text {...txt} transform="translate(28,332) rotate(-90)" textAnchor="middle">
        GPA Altitude, km
      </text>
      {thetaTicks.map((v, i) => (
        <g key={"th" + i}>
          <line x1={aTheta(v)} x2={aTheta(v)} y1={94} y2={82} stroke="#000" strokeWidth={1.5} />
          <text {...txt} x={aTheta(v)} y={69} textAnchor="middle">
            {v}
          </text>
        </g>
      ))}
      <text {...txt} x={240} y={45} textAnchor="middle">
        Potential Temp. K
      </text>
      {brcnTicksA.map((v, i) => (
        <g key={"ba" + i}>
          <line x1={aBr(v)} x2={aBr(v)} y1={685.5} y2={672} stroke="#000" strokeWidth={1.5} />
          <text {...txt} x={aBr(v)} y={710} textAnchor="middle">
            {v}
          </text>
        </g>
      ))}
      <text {...txt} x={240} y={731.5} textAnchor="middle">
        BrCN, pptv
      </text>
      <line x1={aO3(0)} x2={aO3(40)} y1={741.7} y2={741.7} stroke="#000" strokeWidth={1.5} />
      {o3TicksA.map((v, i) => (
        <g key={"oa" + i}>
          <line x1={aO3(v)} x2={aO3(v)} y1={741.7} y2={752.5} stroke="#000" strokeWidth={1.5} />
          <text {...txt} x={aO3(v)} y={777} textAnchor="middle">
            {v}
          </text>
        </g>
      ))}
      <text {...txt} x={234} y={800} textAnchor="middle">
        O<tspan dy={5} fontSize={14}>3</tspan>
        <tspan dy={-5}>, ppbv</tspan>
      </text>
      {/* legend (a) */}
      <rect x={127.3} y={101.7} width={192.7} height={78.3} fill="#fff" stroke="#000" strokeWidth={1.5} />
      <line x1={135} x2={167} y1={116.7} y2={116.7} stroke="#000" strokeWidth={2.5} />
      <text {...txt} x={176.7} y={123.5}>
        Pot Temp.
      </text>
      <line x1={135} x2={167} y1={140} y2={140} stroke={C_GRAY} strokeWidth={2.5} />
      <text {...txt} x={176.7} y={146.5}>
        O<tspan dy={4} fontSize={14}>3</tspan>
      </text>
      <line x1={135} x2={167} y1={163.3} y2={163.3} stroke={C_RED} strokeWidth={1.5} />
      <circle cx={151} cy={163.3} r={6.5} fill="#fff" stroke={C_RED} strokeWidth={1} />
      <text {...txt} x={176.7} y={170}>
        BrCN 10s avg
      </text>
      <rect x={345} y={612.7} width={41} height={36.3} fill="#fff" stroke="#000" strokeWidth={1.5} />
      <text {...txt} fontSize={24} x={365.5} y={639.5} textAnchor="middle">
        (a)
      </text>

      {/* ================= Panel (b) ================= */}
      <g clipPath="url(#clipB)">
        <path d={tl(bHCN)(hcnRawPts) || ""} fill="none" stroke={C_LCYAN} strokeWidth={1.2} />
        <path d={tl(bY)(brcnRawPts) || ""} fill="none" stroke={C_PINK} strokeWidth={1.2} />
        <path d={tl(bY)(brcnPlumePts) || ""} fill="none" stroke={C_PINK} strokeWidth={2.2} />
        <path d={tl(bO3)(o3Series) || ""} fill="none" stroke={C_GRAY} strokeWidth={3} />
        <path d={tl(bHCN)(hcn10s) || ""} fill="none" stroke={C_CYAN} strokeWidth={2.5} />
        {pts(hcn10s).map((d, i) => (
          <path key={"h" + i} d={triUp(bX(d[0]), bHCN(d[1]), 6.3)} fill="#fff" stroke={C_CYAN} strokeWidth={1} />
        ))}
        <path d={tl(bAlt)(gpsAlt) || ""} fill="none" stroke="#000" strokeWidth={3} strokeDasharray="7,5" />
        <path d={tl(bY)(brcn10s) || ""} fill="none" stroke={C_RED} strokeWidth={2.5} />
        {pts(brcn10s).map((d, i) => (
          <circle key={"r" + i} cx={bX(d[0])} cy={bY(d[1])} r={6.5} fill="#fff" stroke={C_RED} strokeWidth={1} />
        ))}
        <path d={tl(bY)(brcl10s) || ""} fill="none" stroke={C_GREEN} strokeWidth={2} />
        {pts(brcl10s).map((d, i) => (
          <g key={"g" + i} stroke={C_GREEN} strokeWidth={1.3}>
            <line x1={bX(d[0]) - 5} x2={bX(d[0]) + 5} y1={bY(d[1])} y2={bY(d[1])} />
            <line x1={bX(d[0])} x2={bX(d[0])} y1={bY(d[1]) - 5} y2={bY(d[1]) + 5} />
          </g>
        ))}
        <path d={tl(bY)(bro10s) || ""} fill="none" stroke={C_ORANGE} strokeWidth={1.5} />
        {pts(bro10s).map((d, i) => (
          <rect
            key={"o" + i}
            x={bX(d[0]) - 6.5}
            y={bY(d[1]) - 6.5}
            width={13}
            height={13}
            fill="#fff"
            stroke={C_ORANGE}
            strokeWidth={1}
          />
        ))}
      </g>
      <rect x={470.5} y={92.5} width={393.5} height={277.5} fill="none" stroke="#000" strokeWidth={1.5} />
      {bLeftTicks.map((v, i) => (
        <g key={"bl" + i}>
          <line x1={470.5} x2={482} y1={bY(v)} y2={bY(v)} stroke="#000" strokeWidth={1.5} />
          <text {...txt} x={463} y={bY(v)} dy="0.35em" textAnchor="end">
            {v}
          </text>
        </g>
      ))}
      <text {...txt} transform="translate(443,228) rotate(-90)" textAnchor="middle" style={{ whiteSpace: "pre" }}>
        {"BrCN,  BrCl, and BrO pptv"}
      </text>
      {bTimeTicks.map((v, i) => (
        <line key={"bt" + i} x1={bX(v)} x2={bX(v)} y1={370} y2={382} stroke="#000" strokeWidth={1.5} />
      ))}
      {gpsTicks.map((v, i) => (
        <g key={"gp" + i}>
          <line x1={864} x2={851} y1={bAlt(v)} y2={bAlt(v)} stroke="#000" strokeWidth={1.5} />
          <text {...txt} x={868} y={bAlt(v)} dy="0.35em">
            {v}
          </text>
        </g>
      ))}
      <text {...txt} transform="translate(905,238) rotate(-90)" textAnchor="middle">
        GPS Alt, km
      </text>
      <line x1={912.7} x2={912.7} y1={bO3(0)} y2={bO3(60)} stroke="#000" strokeWidth={1.5} />
      {o3TicksB.map((v, i) => (
        <g key={"ob" + i}>
          <line x1={912.7} x2={926} y1={bO3(v)} y2={bO3(v)} stroke="#000" strokeWidth={1.5} />
          <text {...txt} x={932} y={bO3(v)} dy="0.35em">
            {v}
          </text>
        </g>
      ))}
      <text {...txt} transform="translate(970,227) rotate(-90)" textAnchor="middle">
        O<tspan dy={5} fontSize={14}>3</tspan>
        <tspan dy={-5}>, ppbv</tspan>
      </text>
      <line x1={981.7} x2={981.7} y1={bHCN(0)} y2={bHCN(200)} stroke="#000" strokeWidth={1.5} />
      {hcnTicks.map((v, i) => (
        <g key={"hc" + i}>
          <line x1={981.7} x2={995} y1={bHCN(v)} y2={bHCN(v)} stroke="#000" strokeWidth={1.5} />
          <text {...txt} x={1002} y={bHCN(v)} dy="0.35em">
            {v}
          </text>
        </g>
      ))}
      <text {...txt} transform="translate(1044,254) rotate(-90)" textAnchor="middle">
        HCN, pptv
      </text>
      {/* legend (b) */}
      <rect x={526} y={26} width={303.3} height={101.7} fill="#fff" stroke="#000" strokeWidth={1.5} />
      {bLegend1.map((e, i) => (
        <g key={"lb1" + i}>
          {legendSample(e.kind, 533, 567, bRows[i])}
          <text {...txt} x={576.7} y={bRows[i] + 7}>
            {e.label}
          </text>
        </g>
      ))}
      {bLegend2.map((e, i) => (
        <g key={"lb2" + i}>
          {legendSample(e.kind, 698, 732, bRows[i])}
          <text {...txt} x={741.7} y={bRows[i] + 7}>
            {e.kind === "o3" ? (
              <>
                O<tspan dy={4} fontSize={14}>3</tspan>
              </>
            ) : (
              e.label
            )}
          </text>
        </g>
      ))}
      <rect x={800} y={263.3} width={46.7} height={33.4} fill="#fff" stroke="#000" strokeWidth={1.5} />
      <text {...txt} fontSize={24} x={823.3} y={288.5} textAnchor="middle">
        (b)
      </text>

      {/* ================= Panel (c) ================= */}
      <g clipPath="url(#clipC)">
        {cSeries.map((s, si) => (
          <g key={"cs" + si}>
            <path d={cl(s.data) || ""} fill="none" stroke={s.color} strokeWidth={2} />
            {pts(s.data).map((d, i) => cMarker(s.m, cX(d[0]), cY(d[1]), s.color, si + "-" + i))}
          </g>
        ))}
      </g>
      <rect x={465.5} y={402.7} width={394} height={282.3} fill="none" stroke="#000" strokeWidth={1.5} />
      {cLeftTicks.map((v, i) => (
        <g key={"cl" + i}>
          <line x1={465.5} x2={478} y1={cY(v)} y2={cY(v)} stroke="#000" strokeWidth={1.5} />
          <line x1={859.5} x2={847} y1={cY(v)} y2={cY(v)} stroke="#000" strokeWidth={1.5} />
          <text {...txt} x={457} y={cY(v)} dy="0.35em" textAnchor="end">
            {v}
          </text>
        </g>
      ))}
      <text {...txt} transform="translate(439,545) rotate(-90)" textAnchor="middle">
        Halocarbon, pptv
      </text>
      {timeTicks.map((v, i) => (
        <g key={"ct" + i}>
          <line x1={cX(v)} x2={cX(v)} y1={685} y2={698} stroke="#000" strokeWidth={1.5} />
          <text {...txt} x={cX(v)} y={722} textAnchor="middle">
            {timeLabels[i]}
          </text>
          <text {...txt} x={cX(v)} y={743.5} textAnchor="middle">
            {dateLabels[i]}
          </text>
        </g>
      ))}
      <text {...txt} x={665} y={751.5} textAnchor="middle">
        Time, UTC
      </text>
      {/* legend (c) */}
      <rect x={474} y={479.3} width={191} height={99} fill="#fff" stroke="#000" strokeWidth={1.5} />
      {cLegend.map((e, i) => (
        <g key={"lc" + i}>
          <line x1={482.7} x2={516.7} y1={cRows[i]} y2={cRows[i]} stroke={e.color} strokeWidth={2} />
          {cMarker(e.m, 499.7, cRows[i], e.color, "m")}
          <text {...txt} x={526} y={cRows[i] + 7}>
            {e.label}
          </text>
        </g>
      ))}
      <rect x={798} y={585} width={42.7} height={35} fill="#fff" stroke="#000" strokeWidth={1.5} />
      <text {...txt} fontSize={24} x={819.3} y={611} textAnchor="middle">
        (c)
      </text>
    </svg>
  );
}
